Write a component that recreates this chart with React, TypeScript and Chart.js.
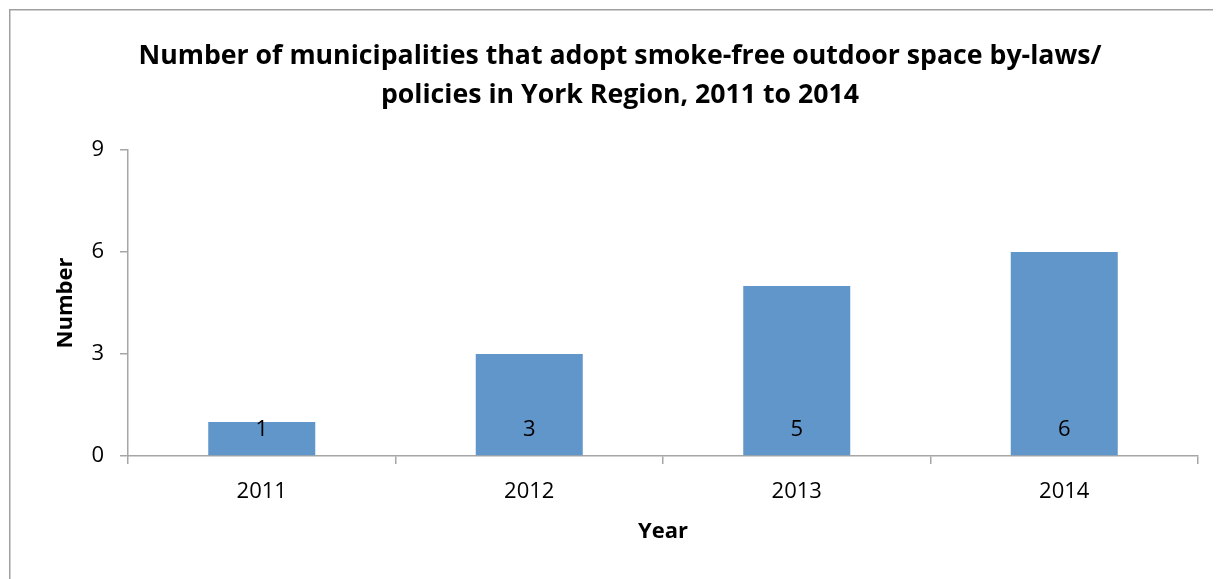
import React, { useEffect, useRef } from "react";
import { Chart, registerables } from "chart.js";

Chart.register(...registerables);

const categories = ["2011", "2012", "2013", "2014"];
const values = [1, 3, 5, 6];
const yTicks = [0, 3, 6, 9];
const titleLines = [
  "Number of municipalities that adopt smoke-free outdoor space by-laws/",
  "policies in York Region, 2011 to 2014",
];
const xTitle = "Year";
const yTitle = "Number";

const FONT = "'Open Sans', sans-serif";
const AXIS = "#A6A6A6";
const BAR = "#6196CA";

export default function App() {
  const ref = useRef<HTMLCanvasElement | null>(null);

  useEffect(() => {
    if (!ref.current) return;
    const decor = {
      id: "decor",
      afterDraw(chart: any) {
        const ctx = chart.ctx;
        const area = chart.chartArea;
        ctx.save();
        // frame
        ctx.strokeStyle = "#A0A0A0";
        ctx.lineWidth = 1.5;
        ctx.beginPath();
        ctx.moveTo(1.75, chart.height);
        ctx.lineTo(1.75, 1.75);
        ctx.lineTo(chart.width, 1.75);
        ctx.stroke();
        // title
        ctx.fillStyle = "#000";
        ctx.textAlign = "center";
        ctx.textBaseline = "middle";
        ctx.font = `bold 26.7px ${FONT}`;
        ctx.fillText(titleLines[0], 612, 48);
        ctx.fillText(titleLines[1], 612, 87);
        // axis titles
        ctx.font = `bold 22px ${FONT}`;
        ctx.fillText(xTitle, (area.left + area.right) / 2, 524);
        ctx.save();
        ctx.translate(58, (area.top + area.bottom) / 2);
        ctx.rotate(-Math.PI / 2);
        ctx.fillText(yTitle, 0, 0);
        ctx.restore();
        // data labels
        ctx.font = `22px ${FONT}`;
        const meta = chart.getDatasetMeta(0);
        meta.data.forEach((bar: any, i: number) => {
          ctx.fillText(String(values[i]), bar.x, bar.base - 26);
        });
        ctx.restore();
      },
    };

    const chart = new Chart(ref.current, {
      type: "bar",
      data: {
        labels: categories,
        datasets: [
          {
            data: values,
            backgroundColor: BAR,
            borderWidth: 0,
            barPercentage: 0.4,
            categoryPercentage: 1,
          },
        ],
      },
      options: {
        responsive: false,
        animation: false,
        layout: { padding: { top: 142, right: 23, bottom: 0, left: 0 } },
        plugins: {
          legend: { display: false },
          tooltip: { enabled: false },
          title: { display: false },
        },
        scales: {
          x: {
            offset: true,
            grid: {
              display: true,
              offset: true,
              drawOnChartArea: false,
              drawTicks: true,
              tickLength: 8,
              color: AXIS,
              lineWidth: 1.5,
            },
            border: { display: true, color: AXIS, width: 1.5 },
            ticks: {
              color: "#000",
              font: { family: FONT, size: 22 },
              padding: 15,
            },
            afterFit(scale: any) {
              scale.height = 571 - 448;
            },
          },
          y: {
            min: 0,
            max: 9,
            afterBuildTicks(scale: any) {
              scale.ticks = yTicks.map((v) => ({ value: v }));
            },
            grid: {
              display: true,
              drawOnChartArea: false,
              drawTicks: true,
              tickLength: 8,
              color: AXIS,
              lineWidth: 1.5,
            },
            border: { display: true, color: AXIS, width: 1.5 },
            ticks: {
              color: "#000",
              font: { family: FONT, size: 22 },
              padding: 16,
            },
            afterFit(scale: any) {
              scale.width = 120;
            },
          },
        },
      },
      plugins: [decor],
    });
    return () => chart.destroy();
  }, []);

  return <canvas ref={ref} width={1213} height={571} style={{ display: "block" }} />;
}
